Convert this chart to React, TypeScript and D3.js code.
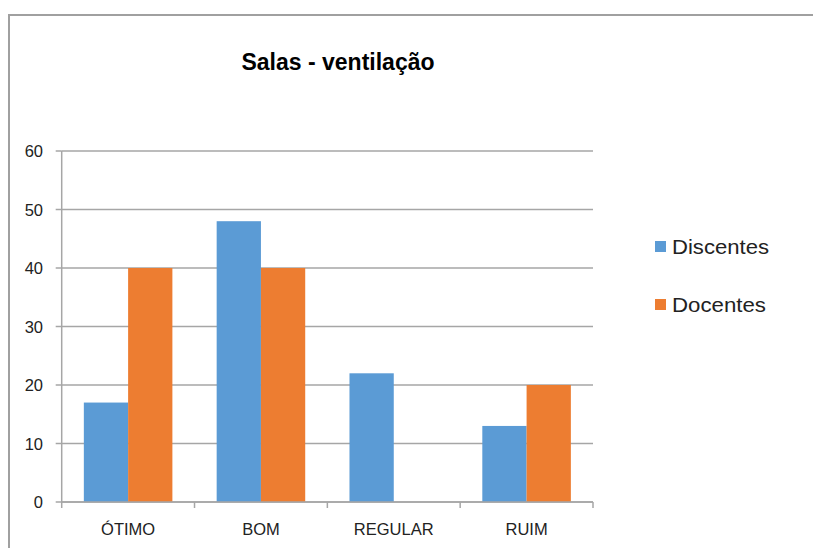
import React from "react";
import * as d3 from "d3";

const categories = ["ÓTIMO", "BOM", "REGULAR", "RUIM"];
const seriesNames = ["Discentes", "Docentes"];
const discentes = [17, 48, 22, 13];
const docentes = [40, 40, 0, 20];
const yTicks = [0, 10, 20, 30, 40, 50, 60];
const colors = ["#5B9BD5", "#ED7D31"];
const title = "Salas - ventilação";

const W = 813;
const H = 548;
const plot = { left: 61.7, right: 593, top: 151, bottom: 502 };

export default function App() {
  const x = d3.scaleBand<string>().domain(categories).range([plot.left, plot.right]).paddingInner(0).paddingOuter(0);
  const inner = d3.scaleBand<string>().domain(seriesNames).range([0, x.bandwidth()]).paddingOuter(0.5).paddingInner(0);
  const y = d3.scaleLinear().domain([0, 60]).range([plot.bottom, plot.top]);
  const series = [discentes, docentes];
  const grid = "#a6a6a6";
  const font = "'Liberation Sans', Arial, sans-serif";

  const boundaries = categories.map((c) => x(c) as number).concat([plot.right]);

  return (
    <svg width={W} height={H} style={{ position: "absolute", left: 0, top: 0, background: "#fff" }}>
      <rect x={0} y={0} width={W} height={H} fill="#fff" />
      {/* outer border */}
      <line x1={9} y1={15} x2={W} y2={15} stroke="#a0a0a0" strokeWidth={2} />
      <line x1={9} y1={14} x2={9} y2={H} stroke="#a0a0a0" strokeWidth={2} />

      <text x={338} y={69.5} textAnchor="middle" fontFamily={font} fontWeight="bold" fontSize={23} fill="#000">
        {title}
      </text>

      {/* gridlines */}
      {yTicks.map((t) => (
        <line key={"g" + t} x1={plot.left} x2={plot.right} y1={y(t)} y2={y(t)} stroke={grid} strokeWidth={1.5} />
      ))}
      {/* y tick marks */}
      {yTicks.map((t) => (
        <line key={"yt" + t} x1={plot.left - 6} x2={plot.left} y1={y(t)} y2={y(t)} stroke={grid} strokeWidth={1.5} />
      ))}
      {yTicks.map((t) => (
        <text key={"yl" + t} x={43} y={y(t) + 6} textAnchor="end" fontFamily={font} fontSize={16.5} fill="#222">
          {t}
        </text>
      ))}

      {/* bars */}
      {categories.map((c, i) =>
        series.map((s, k) =>
          s[i] > 0 ? (
            <rect
              key={c + k}
              x={(x(c) as number) + (inner(seriesNames[k]) as number)}
              y={y(s[i])}
              width={inner.bandwidth()}
              height={y(0) - y(s[i])}
              fill={colors[k]}
            />
          ) : null
        )
      )}

      {/* axes */}
      <line x1={plot.left} x2={plot.left} y1={plot.top} y2={plot.bottom} stroke={grid} strokeWidth={1.5} />
      <line x1={plot.left} x2={plot.right} y1={plot.bottom} y2={plot.bottom} stroke={grid} strokeWidth={1.5} />
      {boundaries.map((b, i) => (
        <line key={"xt" + i} x1={b} x2={b} y1={plot.bottom} y2={plot.bottom + 6} stroke={grid} strokeWidth={1.5} />
      ))}
      {categories.map((c) => (
        <text
          key={"xl" + c}
          x={(x(c) as number) + x.bandwidth() / 2}
          y={534.5}
          textAnchor="middle"
          fontFamily={font}
          fontSize={16.5}
          fill="#222"
        >
          {c}
        </text>
      ))}

      {/* legend */}
      {seriesNames.map((n, k) => (
        <g key={"lg" + n} transform={`translate(655, ${241 + k * 58})`}>
          <rect x={0} y={0} width={11} height={11} fill={colors[k]} />
          <text x={17} y={13} fontFamily={font} fontSize={20} fill="#222" textLength={n === "Discentes" ? 97 : 94} lengthAdjust="spacingAndGlyphs">
            {n}
          </text>
        </g>
      ))}
    </svg>
  );
}
